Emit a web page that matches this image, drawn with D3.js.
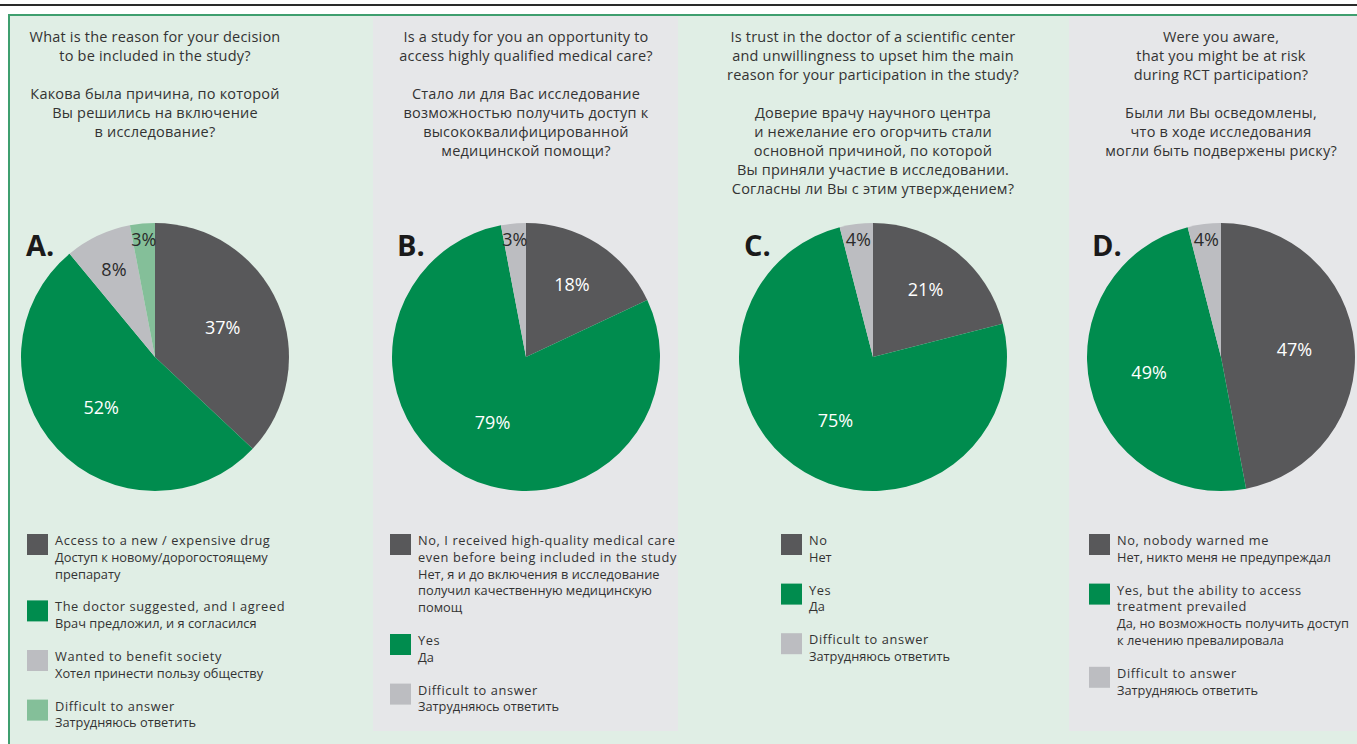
<!DOCTYPE html>
<html>
<head>
<meta charset="utf-8">
<script src="https://cdn.jsdelivr.net/npm/d3@7"></script>
<style>
  html, body { margin: 0; padding: 0; background: #fff; }
  svg { display: block; font-family: "Open Sans", "Noto Sans", sans-serif; }
</style>
</head>
<body>
<svg id="chart" width="1357" height="744"></svg>
<script>
const panelLetters = ['A.', 'B.', 'C.', 'D.'];

const titlesA = ['What is the reason for your decision', 'to be included in the study?', '',
  'Какова была причина, по которой', 'Вы решились на включение', 'в исследование?'];
const titlesB = ['Is a study for you an opportunity to', 'access highly qualified medical care?', '',
  'Стало ли для Вас исследование', 'возможностью получить доступ к', 'высококвалифицированной', 'медицинской помощи?'];
const titlesC = ['Is trust in the doctor of a scientific center', 'and unwillingness to upset him the main',
  'reason for your participation in the study?', '', 'Доверие врачу научного центра',
  'и нежелание его огорчить стали', 'основной причиной, по которой', 'Вы приняли участие в исследовании.',
  'Согласны ли Вы с этим утверждением?'];
const titlesD = ['Were you aware,', 'that you might be at risk', 'during RCT participation?', '',
  'Были ли Вы осведомлены,', 'что в ходе исследования', 'могли быть подвержены риску?'];

const valuesA = [37, 52, 8, 3];
const valuesB = [18, 79, 3];
const valuesC = [21, 75, 4];
const valuesD = [47, 49, 4];

const legendA = [
  ['Access to a new / expensive drug', 'Доступ к новому/дорогостоящему', 'препарату'],
  ['The doctor suggested, and I agreed', 'Врач предложил, и я согласился'],
  ['Wanted to benefit society', 'Хотел принести пользу обществу'],
  ['Difficult to answer', 'Затрудняюсь ответить']
];
const legendB = [
  ['No, I received high-quality medical care', 'even before being included in the study',
    'Нет, я и до включения в исследование', 'получил качественную медицинскую', 'помощ'],
  ['Yes', 'Да'],
  ['Difficult to answer', 'Затрудняюсь ответить']
];
const legendC = [
  ['No', 'Нет'],
  ['Yes', 'Да'],
  ['Difficult to answer', 'Затрудняюсь ответить']
];
const legendD = [
  ['No, nobody warned me', 'Нет, никто меня не предупреждал'],
  ['Yes, but the ability to access', 'treatment prevailed', 'Да, но возможность получить доступ', 'к лечению превалировала'],
  ['Difficult to answer', 'Затрудняюсь ответить']
];

const sliceColors = ['#58585a', '#008c4e', '#bcbdc1', '#84bf99'];
const labelColors = ['#ffffff', '#ffffff', '#2b2b2b', '#2b2b2b'];

const panels = [
  { letter: panelLetters[0], titles: titlesA, values: valuesA, legend: legendA, cx: 155, legendX: 27, bg: null },
  { letter: panelLetters[1], titles: titlesB, values: valuesB, legend: legendB, cx: 526, legendX: 390, bg: [373, 678] },
  { letter: panelLetters[2], titles: titlesC, values: valuesC, legend: legendC, cx: 873, legendX: 781, bg: null },
  { letter: panelLetters[3], titles: titlesD, values: valuesD, legend: legendD, cx: 1221, legendX: 1089, bg: [1069, 1357] }
];

const svg = d3.select('#chart');
const cy = 357;
const radius = 134;

// small slices get their label pushed towards the rim
function labelRadius(v) {
  if (v < 5) return radius * 0.88;
  if (v < 10) return radius * 0.72;
  if (v < 30) return radius * 0.64;
  return radius * 0.55;
}

function drawFrame() {
  svg.append('rect').attr('x', 8).attr('y', 14).attr('width', 1349).attr('height', 730).attr('fill', '#e0eee5');
  svg.append('line').attr('x1', 0).attr('x2', 1357).attr('y1', 5).attr('y2', 5)
    .attr('stroke', '#2a2a2a').attr('stroke-width', 2);
  svg.append('line').attr('x1', 8).attr('x2', 1357).attr('y1', 15).attr('y2', 15)
    .attr('stroke', '#3f9f6f').attr('stroke-width', 2);
  svg.append('line').attr('x1', 9).attr('x2', 9).attr('y1', 15).attr('y2', 744)
    .attr('stroke', '#3f9f6f').attr('stroke-width', 2);
}

function drawPanel(p) {
  const g = svg.append('g');

  if (p.bg) {
    g.append('rect').attr('x', p.bg[0]).attr('y', 16).attr('width', p.bg[1] - p.bg[0]).attr('height', 715)
      .attr('fill', '#e6e7e9');
  }

  g.append('text')
    .attr('text-anchor', 'middle')
    .attr('font-size', 14.5)
    .attr('letter-spacing', 0.2)
    .attr('fill', '#333')
    .selectAll('tspan')
    .data(p.titles)
    .join('tspan')
    .attr('x', p.cx)
    .attr('y', (d, i) => 42 + i * 19)
    .text(d => d);

  const pie = d3.pie().sort(null).value(d => d);
  const arc = d3.arc().innerRadius(0).outerRadius(radius);
  const arcs = pie(p.values);

  const pieG = g.append('g').attr('transform', `translate(${p.cx},${cy})`);
  pieG.selectAll('path')
    .data(arcs)
    .join('path')
    .attr('d', arc)
    .attr('fill', (d, i) => sliceColors[i]);

  pieG.selectAll('text')
    .data(arcs)
    .join('text')
    .attr('transform', d => {
      const r = labelRadius(d.data);
      return `translate(${d3.arc().innerRadius(r).outerRadius(r).centroid(d)})`;
    })
    .attr('text-anchor', 'middle')
    .attr('dy', '0.35em')
    .attr('font-size', 18)
    .attr('fill', (d, i) => labelColors[i])
    .text(d => d.data + '%');

  g.append('text')
    .attr('x', p.cx - 129)
    .attr('y', 256)
    .attr('font-size', 29)
    .attr('font-weight', 'bold')
    .attr('fill', '#1a1a1a')
    .text(p.letter);

  let y = 534;
  p.legend.forEach((lines, i) => {
    g.append('rect').attr('x', p.legendX).attr('y', y).attr('width', 21).attr('height', 21)
      .attr('fill', sliceColors[i]);
    g.append('text')
      .attr('font-size', 12.8)
      .attr('fill', '#333')
      .selectAll('tspan')
      .data(lines)
      .join('tspan')
      .attr('x', p.legendX + 28)
      .attr('y', (d, j) => y + 11 + j * 16.8)
      // latin lines run a bit wider than cyrillic in the original face
      .attr('letter-spacing', d => /[A-Za-z]/.test(d) ? 0.6 : 0)
      .text(d => d);
    y += lines.length * 16.8 + 16;
  });
}

drawFrame();
panels.forEach(drawPanel);
</script>
</body>
</html>
